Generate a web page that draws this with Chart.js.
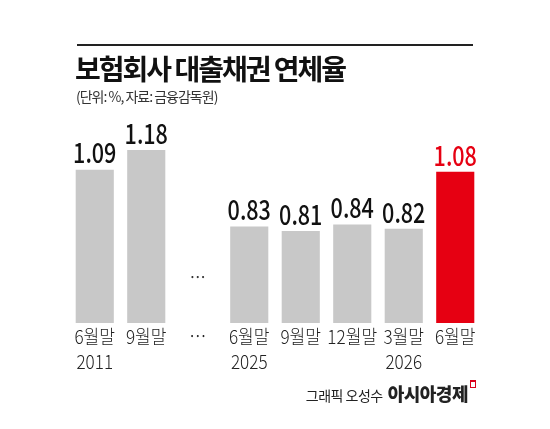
<!DOCTYPE html>
<html>
<head>
<meta charset="utf-8">
<script src="https://cdn.jsdelivr.net/npm/chart.js@4"></script>
<style>
  body { margin: 0; background: #fff; font-family: "Noto Sans CJK KR", sans-serif; }
  #wrap { position: relative; width: 550px; height: 429px; }
  canvas { position: absolute; left: 0; top: 0; }
  .rule { position: absolute; left: 77px; top: 44px; width: 396px; height: 2px; background: #222; }
  .title { position: absolute; left: 75px; top: 48px; font-size: 28px; font-weight: 700; color: #111; letter-spacing: -2px; }
  .sub { position: absolute; left: 76px; top: 86px; font-size: 14px; color: #333; letter-spacing: -1px; }
  .credit { position: absolute; right: 74px; top: 380px; font-size: 14px; color: #222; letter-spacing: -0.5px; }
  .credit b { font-size: 18px; font-weight: 900; margin-left: 5px; }
  .credit i { display: inline-block; width: 4px; height: 5px; border: 1.5px solid #d9001b; border-top-width: 2px; vertical-align: 13px; margin-left: 2px; }
</style>
</head>
<body>
<div id="wrap">
  <canvas id="grafico" width="550" height="429"></canvas>
  <div class="rule"></div>
  <div class="title">보험회사 대출채권 연체율</div>
  <div class="sub">(단위: %, 자료: 금융감독원)</div>
  <div class="credit">그래픽 오성수<b>아시아경제</b><i></i></div>
</div>
<script>
// ======== DADOS =========
const meses = ['6월말', '9월말', '…', '6월말', '9월말', '12월말', '3월말', '6월말'];
const anos = ['2011', '', '', '2025', '', '', '2026', ''];
const taxas = [1.09, 1.18, null, 0.83, 0.81, 0.84, 0.82, 1.08];
const cores = ['#c8c8c8', '#c8c8c8', '#c8c8c8', '#c8c8c8', '#c8c8c8', '#c8c8c8', '#c8c8c8', '#e60012'];

// ======== RÓTULOS =========
const rotulos = {
  id: 'rotulos',
  afterDatasetsDraw(chart) {
    const c = chart.ctx;
    const meta = chart.getDatasetMeta(0);
    const base = chart.chartArea.bottom;
    c.save();
    c.textAlign = 'center';
    meta.data.forEach((bar, i) => {
      const x = bar.x;
      if (taxas[i] !== null) {
        c.save();
        c.translate(x, bar.y - 3);
        c.scale(0.8, 1);
        c.font = '500 27px "Noto Sans CJK KR"';
        c.fillStyle = i === taxas.length - 1 ? '#e60012' : '#111';
        c.textBaseline = 'bottom';
        c.fillText(taxas[i].toFixed(2), 0, 0);
        c.restore();
      } else {
        c.font = '400 16px "Noto Sans CJK KR"';
        c.fillStyle = '#333';
        c.textBaseline = 'middle';
        c.fillText('…', x, base - 46);
      }
      c.save();
      c.translate(x, base + 4);
      c.scale(0.9, 1);
      c.font = '300 19px "Noto Sans CJK KR"';
      c.fillStyle = '#222';
      c.textBaseline = 'top';
      c.fillText(meses[i], 0, 0);
      if (anos[i]) c.fillText(anos[i], 0, 25);
      c.restore();
    });
    c.restore();
  }
};

new Chart(document.getElementById('grafico'), {
  type: 'bar',
  data: {
    labels: meses,
    datasets: [{
      data: taxas,
      backgroundColor: cores,
      barPercentage: 0.74,
      categoryPercentage: 1
    }]
  },
  options: {
    responsive: false,
    animation: false,
    layout: { padding: { left: 69, right: 69, top: 100, bottom: 106 } },
    plugins: { legend: { display: false }, tooltip: { enabled: false } },
    scales: {
      x: { display: false },
      y: { display: false, min: 0.39, max: 1.408 }
    }
  },
  plugins: [rotulos]
});
</script>
</body>
</html>
